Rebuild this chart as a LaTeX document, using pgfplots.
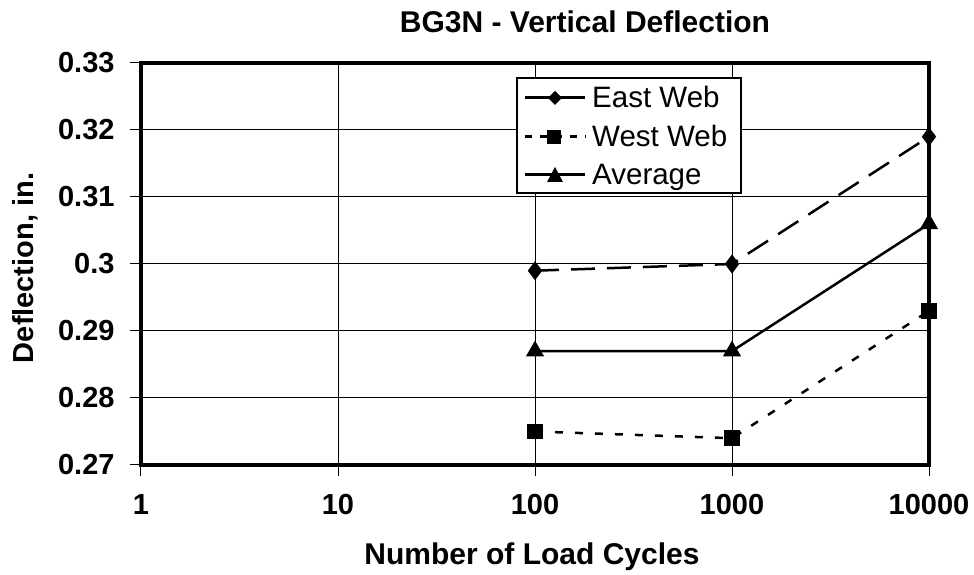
\documentclass[border=0pt]{standalone}
\usepackage{fontspec}
\setmainfont{Liberation Sans}
\usepackage{pgfplots}
\pgfplotsset{compat=1.18}
\newcommand{\tickfont}{\fontsize{29bp}{34bp}\selectfont\bfseries}
\newcommand{\legfont}{\fontsize{29.5bp}{34bp}\selectfont}
\begin{document}
\begin{tikzpicture}
\begin{axis}[
  scale only axis, width=788bp, height=402bp,
  xmode=log, xmin=1, xmax=10000, ymin=0.27, ymax=0.33,
  xtick={1,10,100,1000,10000}, xticklabels={1,10,100,1000,10000},
  ytick={0.27,0.28,0.29,0.3,0.31,0.32,0.33},
  yticklabels={0.27,0.28,0.29,0.3,0.31,0.32,0.33},
  xminorticks=false, yminorticks=false,
  grid=major, major grid style={black, line width=1bp},
  axis line style={line width=4.5bp, line cap=rect},
  tick align=outside, major tick length=11bp,
  tick style={black, line width=1bp},
  xtick pos=bottom, ytick pos=left,
  ticklabel style={font=\tickfont},
  yticklabel style={xshift=-12bp},
  xticklabel style={yshift=-15bp},
  clip=false,
]
\addplot[black, line width=2.5bp, dash pattern=on 24bp off 12bp,
  mark=diamond*, mark size=7.5bp, mark options={solid}]
  coordinates {(100,0.299) (1000,0.300) (10000,0.319)};
\addplot[black, line width=2.5bp, dash pattern=on 8bp off 12bp,
  mark=square*, mark size=6.5bp, mark options={solid}]
  coordinates {(100,0.275) (1000,0.274) (10000,0.293)};
\addplot[black, line width=2.5bp,
  mark=triangle*, mark size=8bp, mark options={solid}]
  coordinates {(100,0.287) (1000,0.287) (10000,0.306)};
\coordinate (sw) at (rel axis cs:0,0);
\end{axis}
% legend
\begin{scope}[shift={(sw)}, x=1bp, y=1bp]
  \fill[white, draw=black, line width=1.5bp] (376,272) rectangle (600,387);
  \draw[black, line width=3bp] (384,367) -- (444,367);
  \fill[black] (414,367) +(0,7) -- +(7,0) -- +(0,-7) -- +(-7,0) -- cycle;
  \node[anchor=base west, font=\legfont, inner sep=0] at (451,357) {East Web};
  \draw[black, line width=3bp, dash pattern=on 7bp off 8bp] (384,328) -- (445,328);
  \fill[black] (406,321) rectangle (420,335);
  \node[anchor=base west, font=\legfont, inner sep=0] at (451,318) {West Web};
  \draw[black, line width=3bp] (384,290) -- (444,290);
  \fill[black] (414,290) +(0,8) -- +(8,-7) -- +(-8,-7) -- cycle;
  \node[anchor=base west, font=\legfont, inner sep=0] at (451,280) {Average};
  % title and labels
  \node[anchor=base, font=\fontsize{30bp}{36bp}\selectfont\bfseries, inner sep=0] at (444,432) {BG3N - Vertical Deflection};
  \node[anchor=base, font=\fontsize{30bp}{36bp}\selectfont\bfseries, inner sep=0] at (391,-100) {Number of Load Cycles};
  \node[anchor=base, rotate=90, font=\fontsize{29bp}{34bp}\selectfont\bfseries, inner sep=0] at (-107,197) {Deflection, in.};
\end{scope}
\pgfresetboundingbox
\path[x=1bp,y=1bp] (sw) ++(-141,-110) rectangle ++(974,575);
\end{tikzpicture}
\end{document}
